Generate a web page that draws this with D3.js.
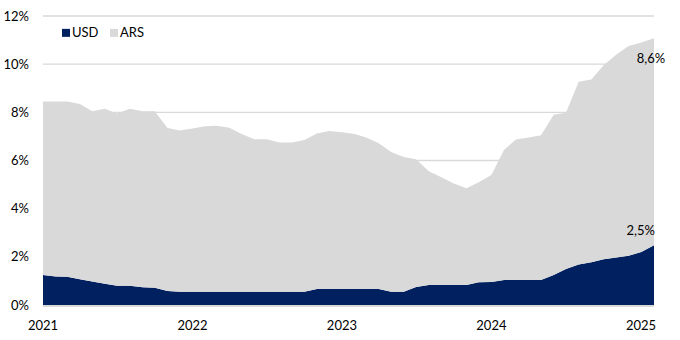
<!DOCTYPE html>
<html>
<head>
<meta charset="utf-8">
<script src="https://cdn.jsdelivr.net/npm/d3@7"></script>
<style>
  body { margin: 0; background: #fff; }
  svg text { font-family: Lato, "Liberation Sans", sans-serif; fill: #000; }
</style>
</head>
<body>
<svg id="chart" width="680" height="340"></svg>
<script>
// Stacked area: USD and ARS share, monthly Jan 2021 - Feb 2025 (in %)

const startMonth = new Date(2021, 0, 1);
const monthCount = 50;

const usdValues = [
  1.25, 1.18, 1.17, 1.07, 0.98, 0.88, 0.80, 0.80, 0.74, 0.72,
  0.58, 0.55, 0.55, 0.55, 0.55, 0.55, 0.55, 0.55, 0.55, 0.55,
  0.55, 0.55, 0.66, 0.66, 0.66, 0.66, 0.66, 0.66, 0.55, 0.55,
  0.75, 0.83, 0.83, 0.83, 0.83, 0.94, 0.95, 1.04, 1.04, 1.04,
  1.04, 1.25, 1.50, 1.68, 1.78, 1.90, 1.97, 2.05, 2.20, 2.48,
];

const arsValues = [
  7.20, 7.27, 7.28, 7.28, 7.07, 7.27, 7.15, 7.35, 7.31, 7.33,
  6.77, 6.70, 6.78, 6.87, 6.89, 6.81, 6.55, 6.33, 6.33, 6.20,
  6.20, 6.30, 6.46, 6.57, 6.51, 6.44, 6.29, 6.06, 5.80, 5.60,
  5.30, 4.72, 4.47, 4.22, 4.02, 4.16, 4.45, 5.41, 5.83, 5.91,
  6.01, 6.65, 6.48, 7.59, 7.58, 8.05, 8.43, 8.70, 8.70, 8.60,
];

const seriesKeys = ["USD", "ARS"];
const seriesColors = { USD: "#002060", ARS: "#d9d9d9" };
const yTicks = [0, 2, 4, 6, 8, 10, 12];
const xTickYears = [2021, 2022, 2023, 2024, 2025];

const rows = d3.range(monthCount).map((i) => ({
  date: d3.timeMonth.offset(startMonth, i),
  USD: usdValues[i],
  ARS: arsValues[i],
}));

const margin = { top: 16, right: 26, bottom: 35, left: 43 };
const width = 680 - margin.left - margin.right;
const height = 340 - margin.top - margin.bottom;

const svg = d3.select("#chart");
const g = svg.append("g").attr("transform", `translate(${margin.left},${margin.top})`);

const x = d3
  .scaleTime()
  .domain(d3.extent(rows, (d) => d.date))
  .range([0, width]);
const y = d3.scaleLinear().domain([0, 12]).range([height, 0]);

// gridlines
g.selectAll(".grid")
  .data(yTicks.filter((t) => t > 0))
  .join("line")
  .attr("class", "grid")
  .attr("x1", 0)
  .attr("x2", width)
  .attr("y1", (d) => y(d))
  .attr("y2", (d) => y(d))
  .attr("stroke", "#d9d9d9")
  .attr("stroke-width", 1.3);

const stacked = d3.stack().keys(seriesKeys)(rows);
const area = d3
  .area()
  .x((d) => x(d.data.date))
  .y0((d) => y(d[0]))
  .y1((d) => y(d[1]));

g.selectAll(".layer")
  .data(stacked)
  .join("path")
  .attr("class", "layer")
  .attr("fill", (d) => seriesColors[d.key])
  .attr("d", area);

// baseline
g.append("line")
  .attr("x1", 0)
  .attr("x2", width)
  .attr("y1", y(0) + 1)
  .attr("y2", y(0) + 1)
  .attr("stroke", "#d9d9d9")
  .attr("stroke-width", 2);

// y axis labels
g.selectAll(".y-label")
  .data(yTicks)
  .join("text")
  .attr("class", "y-label")
  .attr("x", -14)
  .attr("y", (d) => y(d))
  .attr("dy", "0.35em")
  .attr("text-anchor", "end")
  .style("font-size", "13px")
  .text((d) => `${d}%`);

// x axis labels
g.selectAll(".x-label")
  .data(xTickYears)
  .join("text")
  .attr("class", "x-label")
  .attr("x", (d) => Math.min(x(new Date(d, 0, 1)), width - 13))
  .attr("y", height + 20)
  .attr("dy", "0.35em")
  .attr("text-anchor", "middle")
  .style("font-size", "13px")
  .text((d) => d);

// end labels
const last = rows[rows.length - 1];
const fmt = (v) => `${v.toFixed(1).replace(".", ",")}%`;

g.append("text")
  .attr("x", x(last.date) - 3)
  .attr("y", y(last.USD + last.ARS) + 20)
  .attr("dy", "0.35em")
  .attr("text-anchor", "middle")
  .style("font-size", "13px")
  .text(fmt(last.ARS));

g.append("text")
  .attr("x", x(last.date) + 1)
  .attr("y", y(last.USD) - 15)
  .attr("dy", "0.35em")
  .attr("text-anchor", "end")
  .style("font-size", "13px")
  .text(fmt(last.USD));

// legend
const legend = g.append("g").attr("transform", `translate(19,${y(11.3)})`);
const legendItems = legend
  .selectAll(".legend-item")
  .data(seriesKeys)
  .join("g")
  .attr("class", "legend-item")
  .attr("transform", (d, i) => `translate(${i * 48},0)`);

legendItems
  .append("rect")
  .attr("x", 0)
  .attr("y", -4)
  .attr("width", 8)
  .attr("height", 8)
  .attr("fill", (d) => seriesColors[d]);

legendItems
  .append("text")
  .attr("x", 10)
  .attr("y", 0)
  .attr("dy", "0.35em")
  .style("font-size", "13px")
  .text((d) => d);
</script>
</body>
</html>
